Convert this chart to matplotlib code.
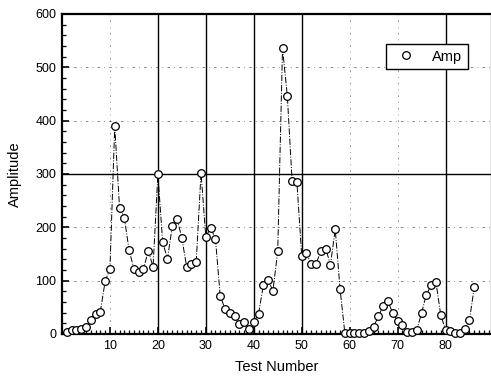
import matplotlib.pyplot as plt
from matplotlib.lines import Line2D
from matplotlib.ticker import MultipleLocator

plt.rcParams['font.family'] = ['Liberation Sans', 'DejaVu Sans']

test_number = list(range(1, 87))
amp = [3, 7, 8, 10, 13, 27, 38, 42, 99, 122,
       390, 237, 218, 157, 122, 116, 122, 156, 126, 300,
       172, 141, 202, 216, 180, 126, 132, 135, 302, 182,
       199, 179, 72, 47, 39, 33, 19, 22, 10, 22,
       38, 91, 101, 81, 155, 536, 447, 287, 285, 147,
       151, 131, 132, 155, 160, 130, 196, 85, 2, 2,
       2, 2, 1, 5, 14, 33, 53, 61, 39, 25,
       16, 3, 3, 7, 39, 74, 91, 98, 36, 8,
       5, 2, 2, 9, 26, 88]

solid_x = [20, 30, 40, 50, 80]
faint_x = [10, 60, 70]
solid_y = [300]
faint_y = [100, 200, 400, 500]

fig = plt.figure(figsize=(4.91, 3.88), dpi=100)
ax = fig.add_axes([62 / 491, 54 / 388, 430 / 491, 320 / 388])

for x in solid_x:
    ax.axvline(x, color='black', lw=1.0, zorder=1)
for x in faint_x:
    ax.axvline(x, color='black', lw=0.6, ls=(0, (2, 6, 1, 6)), alpha=0.5, zorder=1)
for y in solid_y:
    ax.axhline(y, color='black', lw=1.0, zorder=1)
for y in faint_y:
    ax.axhline(y, color='black', lw=0.6, ls=(0, (3, 5, 1, 5)), alpha=0.55, zorder=1)

ax.plot(test_number, amp, color='black', lw=0.7, ls='-.', zorder=2)
ax.plot(test_number, amp, ls='none', marker='o', ms=5.5, mfc='white',
        mec='black', mew=0.9, zorder=3, clip_on=False)

ax.set_xlim(0, 89.7)
ax.set_ylim(0, 600)
ax.xaxis.set_major_locator(MultipleLocator(10))
ax.xaxis.set_minor_locator(MultipleLocator(1))
ax.yaxis.set_major_locator(MultipleLocator(100))
ax.yaxis.set_minor_locator(MultipleLocator(20))
ax.set_xticks(range(10, 90, 10))
ax.tick_params(which='major', direction='in', length=5, width=1.2, labelsize=9, pad=4)
ax.tick_params(which='minor', direction='in', length=3, width=0.9)
for s in ax.spines.values():
    s.set_linewidth(1.6)

ax.set_xlabel('Test Number', fontsize=10.5, labelpad=6)
ax.set_ylabel('Amplitude', fontsize=10.5, labelpad=10)

handle = Line2D([], [], ls='none', marker='o', ms=5.5, mfc='white', mec='black', mew=0.9)
leg = ax.legend([handle], ['Amp'], loc='upper right', bbox_to_anchor=(0.962, 0.93),
                fontsize=10.5, fancybox=False, framealpha=1, edgecolor='black',
                handletextpad=0.8, borderpad=0.4)
leg.get_frame().set_linewidth(1.0)

fig.savefig('out.png', dpi=100)
